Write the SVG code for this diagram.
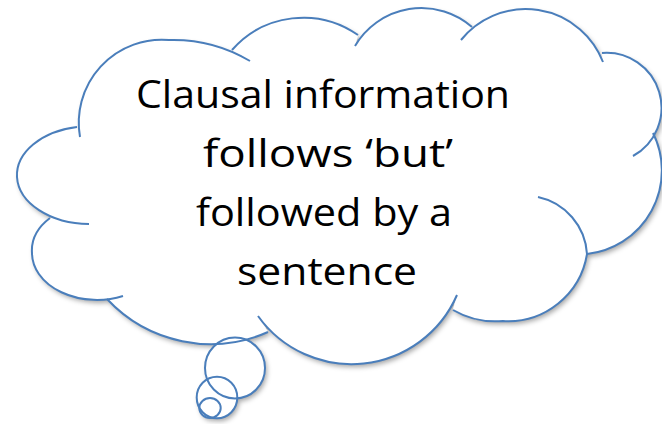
<svg xmlns="http://www.w3.org/2000/svg" width="662" height="424" viewBox="0 0 662 424">
  <style>
    .fill { fill: #ffffff; stroke: none; }
    .edge { fill: none; stroke: #4a7ebb; stroke-width: 2; stroke-linecap: butt; }
    .label { font-family: "Open Sans", "Liberation Sans", sans-serif; font-size: 39px; fill: #000000; text-anchor: middle; }
  </style>
  <defs>
    <filter id="shadow" x="-10%" y="-10%" width="120%" height="130%">
      <feDropShadow dx="2" dy="3" stdDeviation="2.5" flood-color="#000000" flood-opacity="0.35"/>
    </filter>
  </defs>

  <rect width="662" height="424" fill="#ffffff"/>

  <!-- white body of the cloud and the thought bubbles, with a soft shadow -->
  <g id="body" filter="url(#shadow)">
    <path class="fill" d="M80,137 A83,83 0 0 1 169,40 A150,150 0 0 1 250,61 L232,50 A95,95 0 0 1 358,35 L355,46 A77,77 0 0 1 472,27 L461,40 A83,83 0 0 1 603,62 L602,53 A55,55 0 0 1 633,156 L653,133 A84,84 0 0 1 587,254 L538,197 A62,62 0 0 1 587,254 A80,80 0 0 1 503,321 A85,85 0 0 1 453,310 L457,295 A115,115 0 0 1 258,316 L268,332 A142,142 0 0 1 107,299 L123,296 A65,47 0 0 1 32,253 A65,47 0 0 1 50,218 L89,224 A73,49 0 0 1 17,177 A73,49 0 0 1 77,127 Z"/>
    <ellipse class="fill" cx="235" cy="368" rx="30" ry="30.5"/>
    <ellipse class="fill" cx="217" cy="397.5" rx="20.3" ry="20.8"/>
    <ellipse class="fill" cx="210" cy="408" rx="10.7" ry="10"/>
  </g>

  <!-- cloud outline: one arc per lobe, each running a little past its junction -->
  <g id="cloud">
    <path id="lobe-a" class="edge" d="M80,137 A83,83 0 0 1 169,40 A150,150 0 0 1 250,61"/>
    <path id="lobe-b" class="edge" d="M232,50 A95,95 0 0 1 358,35"/>
    <path id="lobe-c" class="edge" d="M355,46 A77,77 0 0 1 472,27"/>
    <path id="lobe-d" class="edge" d="M461,40 A83,83 0 0 1 603,62"/>
    <path id="lobe-e" class="edge" d="M602,53 A55,55 0 0 1 633,156"/>
    <path id="lobe-f" class="edge" d="M653,133 A84,84 0 0 1 587,254"/>
    <path id="lobe-g" class="edge" d="M538,197 A62,62 0 0 1 587,254 A80,80 0 0 1 503,321 A85,85 0 0 1 453,310"/>
    <path id="lobe-h" class="edge" d="M457,295 A115,115 0 0 1 258,316"/>
    <path id="lobe-i" class="edge" d="M268,332 A142,142 0 0 1 107,299"/>
    <path id="lobe-j" class="edge" d="M123,296 A65,47 0 0 1 32,253 A65,47 0 0 1 50,218"/>
    <path id="lobe-l" class="edge" d="M89,224 A73,49 0 0 1 17,177 A73,49 0 0 1 77,127"/>
  </g>

  <!-- thought bubbles trailing from the cloud -->
  <g id="tail">
    <ellipse class="edge" cx="235" cy="368" rx="30" ry="30.5"/>
    <ellipse class="edge" cx="217" cy="397.5" rx="20.3" ry="20.8"/>
    <ellipse class="edge" cx="210" cy="408" rx="10.7" ry="10"/>
  </g>

  <g id="label">
    <text class="label" x="323" y="108" textLength="374" lengthAdjust="spacingAndGlyphs">Clausal information</text>
    <text class="label" x="328" y="167" textLength="250" lengthAdjust="spacingAndGlyphs">follows ‘but’</text>
    <text class="label" x="324" y="226" textLength="256" lengthAdjust="spacingAndGlyphs">followed by a</text>
    <text class="label" x="327" y="285" textLength="180" lengthAdjust="spacingAndGlyphs">sentence</text>
  </g>
</svg>
